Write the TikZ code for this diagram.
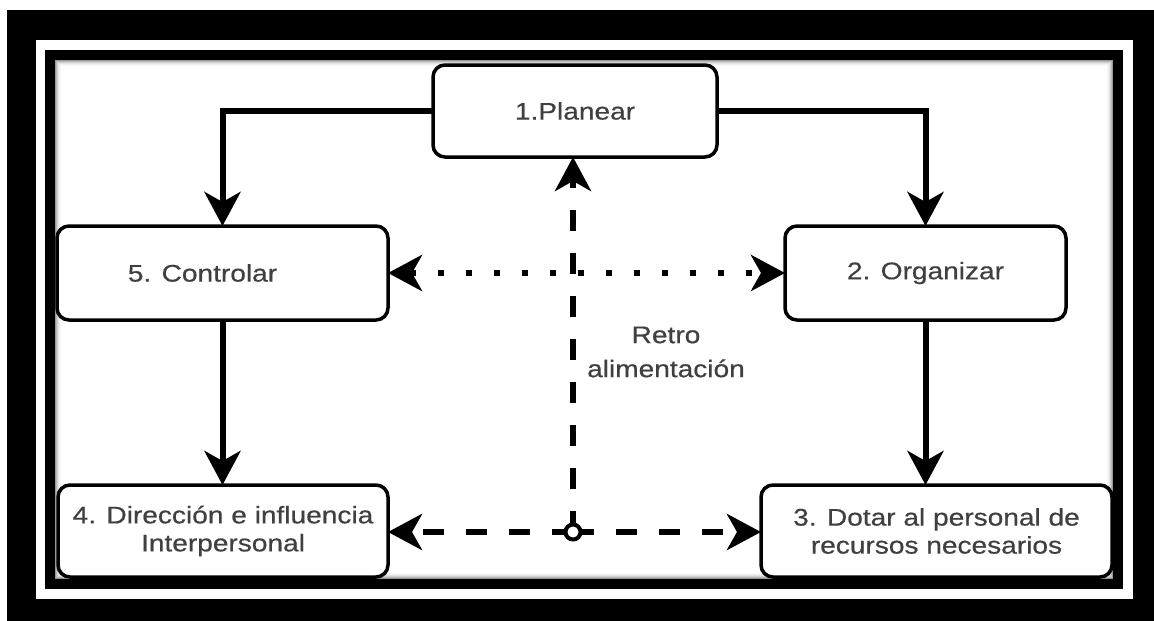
\documentclass[tikz,border=0pt]{standalone}
\usepackage{fontspec}
\setmainfont{Liberation Sans}[FakeStretch=1.17, FakeBold=0.5]
\usetikzlibrary{arrows.meta}

\tikzset{
  stepbox/.style={draw=black, line width=3.5pt, rounded corners=12pt, fill=white,
    inner sep=0pt, outer sep=0pt, align=center, text=black!75,
    font=\fontsize{24}{28}\selectfont},
  flow/.style={line width=6pt, -{Stealth[length=34pt, width=36pt, inset=10pt]}},
  dotline/.style={line width=6pt, dash pattern=on 6pt off 22pt,
    {Stealth[length=34pt, width=36pt, inset=10pt]}-{Stealth[length=34pt, width=36pt, inset=10pt]}},
  dashline/.style={line width=6pt, dash pattern=on 21pt off 22pt,
    -{Stealth[length=34pt, width=36pt, inset=10pt]}},
}

\begin{document}
\begin{tikzpicture}[x=1pt, y=-1pt]
  \useasboundingbox (0,0) rectangle (1154,621);
  % framed panel
  \fill[white] (0,0) rectangle (1154,621);
  \fill[black] (7,10) rectangle (1154,621);
  \fill[white] (36,40) rectangle (1133,599);
  \fill[black] (45,50) rectangle (1123,589);
  \fill[white] (55,60) rectangle (1113,579);
  % soft inner shade along the frame
  \foreach \i/\o in {1/0.40,2/0.28,3/0.18,4/0.11,5/0.06,6/0.03}
    \draw[black, opacity=\o, line width=1pt]
      (55+\i-0.5,60+\i-0.5) rectangle (1113-\i+0.5,579-\i+0.5);

  % steps
  \node[stepbox, minimum width=284pt, minimum height=92pt] (plan) at (575,111) {1.Planear};
  \node[stepbox, minimum width=331pt, minimum height=94pt] (ctl) at (222.5,273)
    {5. Controlar\hspace*{40pt}};
  \node[stepbox, minimum width=281pt, minimum height=94pt] (org) at (925.5,273) {2. Organizar};
  \node[stepbox, minimum width=330pt, minimum height=92pt] (dir) at (223,531)
    {4. Dirección e influencia\\Interpersonal};
  \node[stepbox, minimum width=351pt, minimum height=92pt] (dot) at (936.5,531)
    {3. Dotar al personal de\\recursos necesarios};

  % main cycle
  \draw[flow] (plan.west) -| (ctl.north);
  \draw[flow] (plan.east) -| (org.north);
  \draw[flow] (ctl.south) -- (ctl.south |- dir.north);
  \draw[flow] (org.south) -- (org.south |- dot.north);

  % links between control and organisation
  \draw[dotline] (ctl.east) -- (org.west);

  % feedback
  \coordinate (hub) at (573,532);
  \draw[dashline] (hub) -- (hub |- plan.south);
  \draw[dashline] (hub) -- (dir.east |- hub);
  \draw[dashline] (hub) -- (dot.west |- hub);
  \node[circle, draw=black, fill=white, line width=4pt, minimum size=15pt, inner sep=0pt] (hubdot) at (hub) {};

  \node[align=center, text=black!75, font=\fontsize{24}{34}\selectfont] (fb) at (666,352)
    {Retro\\alimentación};
\end{tikzpicture}
\end{document}
